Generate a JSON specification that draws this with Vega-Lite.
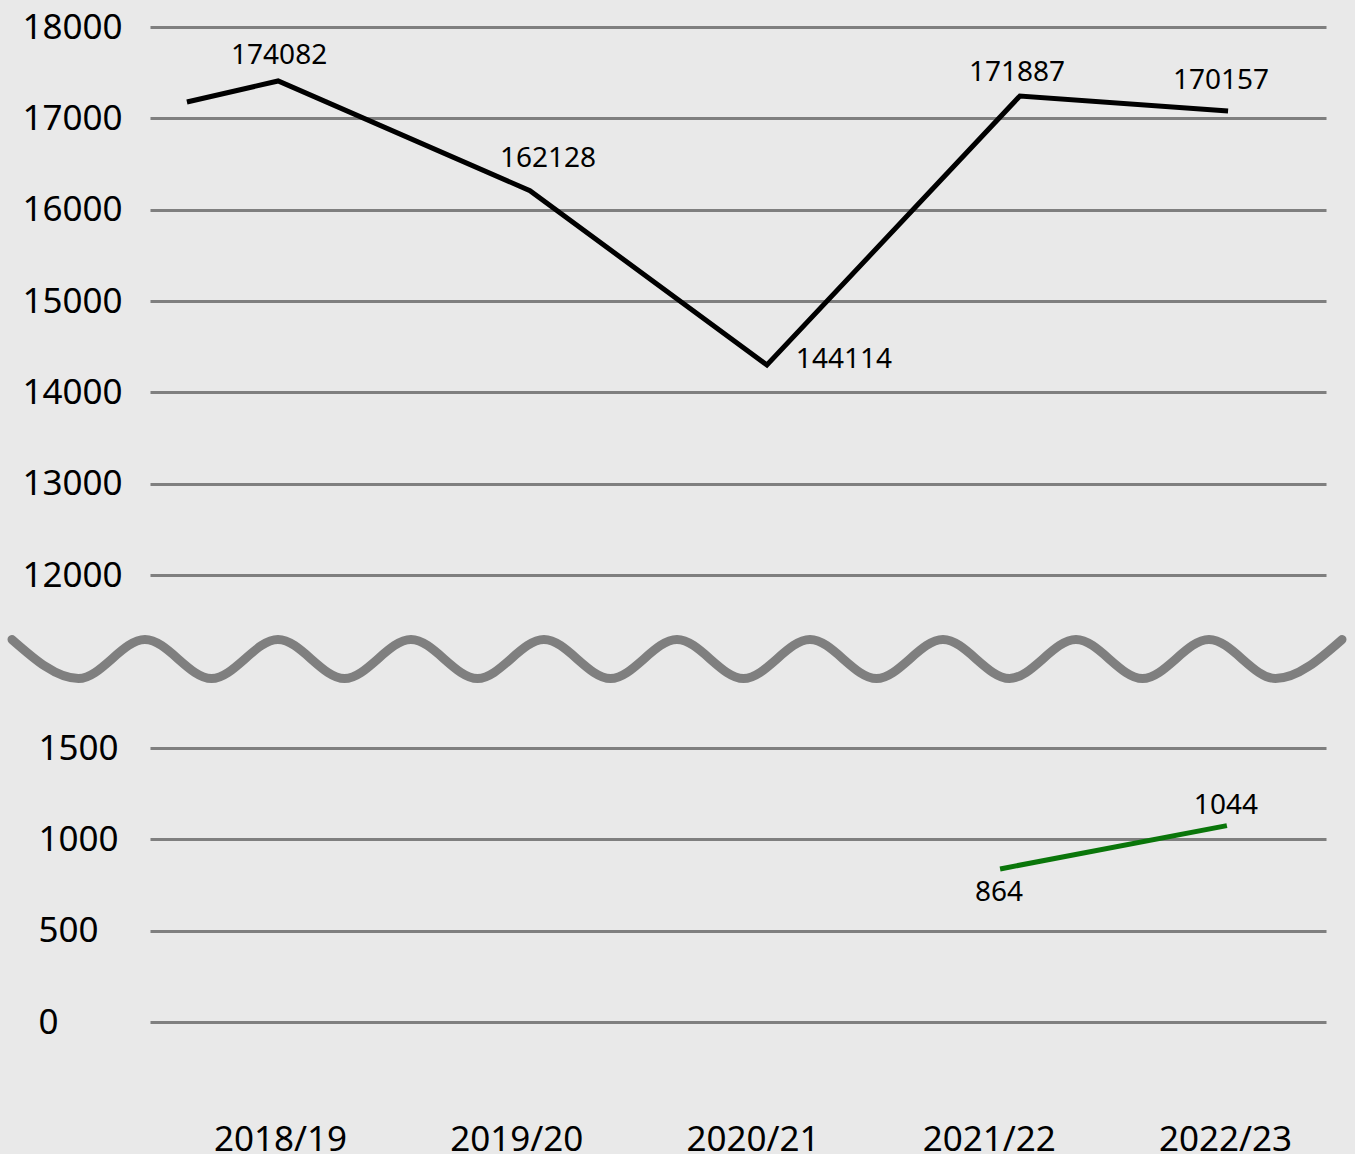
{
  "$schema": "https://vega.github.io/schema/vega-lite/v6.json",
  "background": "#e9e9e9",
  "padding": {"left": -7, "top": 10, "right": 0, "bottom": 0},
  "bounds": "flush",
  "spacing": 0,
  "resolve": {"scale": {"x": "independent", "y": "independent"}},
  "config": {
    "view": {"stroke": null},
    "font": "Noto Sans",
    "text": {"font": "Noto Sans", "fontSize": 28, "color": "#000000", "baseline": "middle", "align": "center"}
  },
  "datasets": {
    "black": [
      {"x": -0.394, "v": 17179, "label": ""},
      {"x": -0.008, "v": 17409, "label": "174082"},
      {"x": 1.058, "v": 16208, "label": "162128"},
      {"x": 2.061, "v": 14299, "label": "144114"},
      {"x": 3.132, "v": 17245, "label": "171887"},
      {"x": 4.013, "v": 17080, "label": "170157"}
    ],
    "green": [
      {"x": 3.048, "v": 838, "label": "864"},
      {"x": 4.008, "v": 1075, "label": "1044"}
    ],
    "wave": [
      {"t": 0, "w": 1}, {"t": 0.5, "w": -1},
      {"t": 1, "w": 1}, {"t": 1.5, "w": -1},
      {"t": 2, "w": 1}, {"t": 2.5, "w": -1},
      {"t": 3, "w": 1}, {"t": 3.5, "w": -1},
      {"t": 4, "w": 1}, {"t": 4.5, "w": -1},
      {"t": 5, "w": 1}, {"t": 5.5, "w": -1},
      {"t": 6, "w": 1}, {"t": 6.5, "w": -1},
      {"t": 7, "w": 1}, {"t": 7.5, "w": -1},
      {"t": 8, "w": 1}, {"t": 8.5, "w": -1},
      {"t": 9, "w": 1}, {"t": 9.5, "w": -1},
      {"t": 10, "w": 1}
    ]
  },
  "vconcat": [
    {
      "width": 1176,
      "height": 548,
      "data": {"name": "black"},
      "encoding": {
        "x": {"field": "x", "type": "quantitative", "scale": {"domain": [-0.5503, 4.4275], "nice": false, "zero": false}, "axis": null},
        "y": {"field": "v", "type": "quantitative", "scale": {"domain": [12000, 18000], "nice": false, "zero": false},
          "axis": {"values": [12000, 13000, 14000, 15000, 16000, 17000, 18000], "format": "d", "title": null,
            "grid": true, "gridColor": "#7f7f7f", "gridWidth": 3, "gridOpacity": 1,
            "domain": false, "ticks": false, "tickSize": 0,
            "labelAlign": "left", "labelBaseline": "middle", "labelPadding": 128, "labelFontSize": 35, "labelFont": "Noto Sans", "labelColor": "#000000", "labelFlush": false, "labelOverlap": false}}
      },
      "layer": [
        {"mark": {"type": "line", "color": "#000000", "strokeWidth": 5, "strokeJoin": "miter"}},
        {"transform": [{"filter": "datum.label == '174082'"}], "mark": {"type": "text", "dx": 1, "dy": -25}, "encoding": {"text": {"field": "label"}}},
        {"transform": [{"filter": "datum.label == '162128'"}], "mark": {"type": "text", "dx": 18, "dy": -32}, "encoding": {"text": {"field": "label"}}},
        {"transform": [{"filter": "datum.label == '144114'"}], "mark": {"type": "text", "dx": 77, "dy": -5}, "encoding": {"text": {"field": "label"}}},
        {"transform": [{"filter": "datum.label == '171887'"}], "mark": {"type": "text", "dx": -3, "dy": -23}, "encoding": {"text": {"field": "label"}}},
        {"transform": [{"filter": "datum.label == '170157'"}], "mark": {"type": "text", "dx": -7, "dy": -30}, "encoding": {"text": {"field": "label"}}}
      ]
    },
    {
      "width": 1176,
      "height": 173,
      "data": {"name": "wave"},
      "mark": {"type": "line", "color": "#7f7f7f", "strokeWidth": 9, "strokeCap": "round", "interpolate": "monotone", "clip": false},
      "encoding": {
        "x": {"field": "t", "type": "quantitative", "scale": {"domain": [1.0376, 9.8797], "nice": false, "zero": false}, "axis": null},
        "y": {"field": "w", "type": "quantitative", "scale": {"domain": [-4.564, 4.308], "nice": false, "zero": false}, "axis": null}
      }
    },
    {
      "width": 1176,
      "height": 274,
      "data": {"name": "green"},
      "encoding": {
        "x": {"field": "x", "type": "quantitative", "scale": {"domain": [-0.5503, 4.4275], "nice": false, "zero": false},
          "axis": {"values": [0, 1, 2, 3, 4], "labelExpr": "['2018/19','2019/20','2020/21','2021/22','2022/23'][datum.value]", "title": null,
            "grid": false, "domain": false, "ticks": false, "tickSize": 0, "labelPadding": 128, "labelBaseline": "alphabetic",
            "labelFontSize": 35, "labelFont": "Noto Sans", "labelColor": "#000000", "labelFlush": false, "labelOverlap": false}},
        "y": {"field": "v", "type": "quantitative", "scale": {"domain": [0, 1500], "nice": false, "zero": false},
          "axis": {"values": [0, 500, 1000, 1500], "format": "d", "title": null,
            "grid": true, "gridColor": "#7f7f7f", "gridWidth": 3, "gridOpacity": 1,
            "domain": false, "ticks": false, "tickSize": 0,
            "labelAlign": "left", "labelBaseline": "middle", "labelPadding": 112, "labelFontSize": 35, "labelFont": "Noto Sans", "labelColor": "#000000", "labelFlush": false, "labelOverlap": false}}
      },
      "layer": [
        {"mark": {"type": "line", "color": "#0a760a", "strokeWidth": 5}},
        {"transform": [{"filter": "datum.label == '1044'"}], "mark": {"type": "text", "dx": -1, "dy": -20}, "encoding": {"text": {"field": "label"}}},
        {"transform": [{"filter": "datum.label == '864'"}], "mark": {"type": "text", "dx": -1, "dy": 24}, "encoding": {"text": {"field": "label"}}}
      ]
    }
  ]
}
